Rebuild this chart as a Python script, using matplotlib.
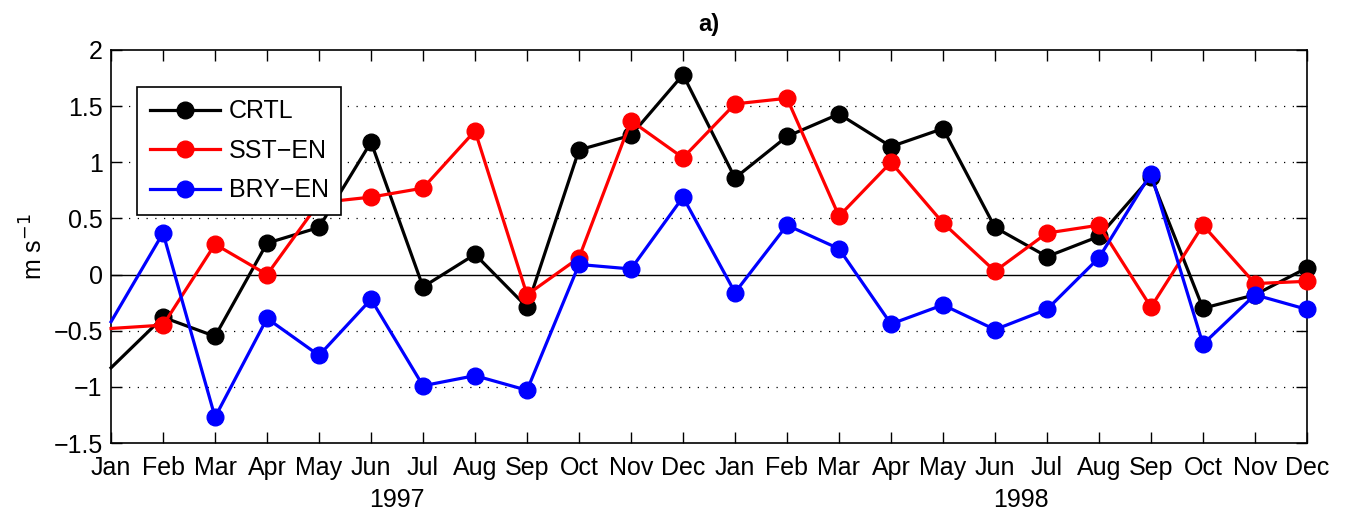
import matplotlib
matplotlib.use("Agg")
import matplotlib.pyplot as plt
from matplotlib.lines import Line2D
import numpy as np

plt.rcParams['font.family'] = ['Liberation Sans', 'DejaVu Sans']

months = ["Jan", "Feb", "Mar", "Apr", "May", "Jun", "Jul", "Aug", "Sep", "Oct", "Nov", "Dec",
          "Jan", "Feb", "Mar", "Apr", "May", "Jun", "Jul", "Aug", "Sep", "Oct", "Nov", "Dec"]
years = ["1997", "1998"]

crtl = [-0.83, -0.38, -0.55, 0.28, 0.42, 1.18, -0.11, 0.18, -0.29, 1.11, 1.24, 1.78,
        0.86, 1.23, 1.43, 1.14, 1.30, 0.42, 0.16, 0.34, 0.87, -0.30, -0.18, 0.06]
sst_en = [-0.48, -0.45, 0.27, 0.00, 0.64, 0.69, 0.77, 1.28, -0.18, 0.15, 1.37, 1.04,
          1.52, 1.57, 0.52, 1.00, 0.46, 0.03, 0.37, 0.44, -0.29, 0.44, -0.08, -0.06]
bry_en = [-0.42, 0.37, -1.27, -0.39, -0.72, -0.22, -0.99, -0.90, -1.03, 0.09, 0.05, 0.69,
          -0.16, 0.44, 0.23, -0.44, -0.27, -0.49, -0.31, 0.15, 0.90, -0.62, -0.18, -0.31]

x = np.arange(1, len(months) + 1)

fig = plt.figure(figsize=(13.51, 5.17), dpi=100)
ax = fig.add_axes([0.0822, 0.1431, 0.8852, 0.7602])

ax.axhline(0, color='black', lw=1.0, zorder=1)
for yv in [-1, -0.5, 0.5, 1, 1.5]:
    ax.axhline(yv, color='black', lw=0.9, ls=(0, (1, 6)), zorder=0)

series = [(crtl, 'black', 'CRTL'), (sst_en, 'red', 'SST\u2212EN'), (bry_en, 'blue', 'BRY\u2212EN')]
handles = []
for vals, col, lab in series:
    ax.plot(x, vals, color=col, lw=2.3, marker='o', markersize=12,
            markevery=slice(1, None), clip_on=False, zorder=3)
    handles.append(Line2D([], [], color=col, lw=2.3, marker='o', markersize=12, label=lab))

ax.set_xlim(1, 24)
ax.set_ylim(-1.5, 2)
ax.set_xticks(x)
ax.set_xticklabels(months)
ax.set_yticks([-1.5, -1, -0.5, 0, 0.5, 1, 1.5, 2])
ax.set_yticklabels(['\u22121.5', '\u22121', '\u22120.5', '0', '0.5', '1', '1.5', '2'])
ax.tick_params(direction='in', top=True, right=True, length=8, width=1, labelsize=18)
ax.tick_params(axis='x', pad=9)
ax.tick_params(axis='y', pad=6)
for s in ax.spines.values():
    s.set_linewidth(1.2)

ax.set_ylabel('m s$^{-1}$', fontsize=18, labelpad=4)
ax.set_title('a)', fontsize=17, fontweight='bold', pad=14)

for i, yr in enumerate(years):
    ax.text(6.5 + 12 * i, -2.01, yr, ha='center', va='center', fontsize=18)

leg = ax.legend(handles=handles, loc='upper left', bbox_to_anchor=(0.0217, 0.906), fontsize=18,
                frameon=True, fancybox=False, edgecolor='black', framealpha=1, numpoints=1,
                handlelength=2.8, borderpad=0.5, labelspacing=0.62, handletextpad=0.36,
                borderaxespad=0)
leg.get_frame().set_linewidth(1.2)

fig.savefig('out.png', dpi=100)
